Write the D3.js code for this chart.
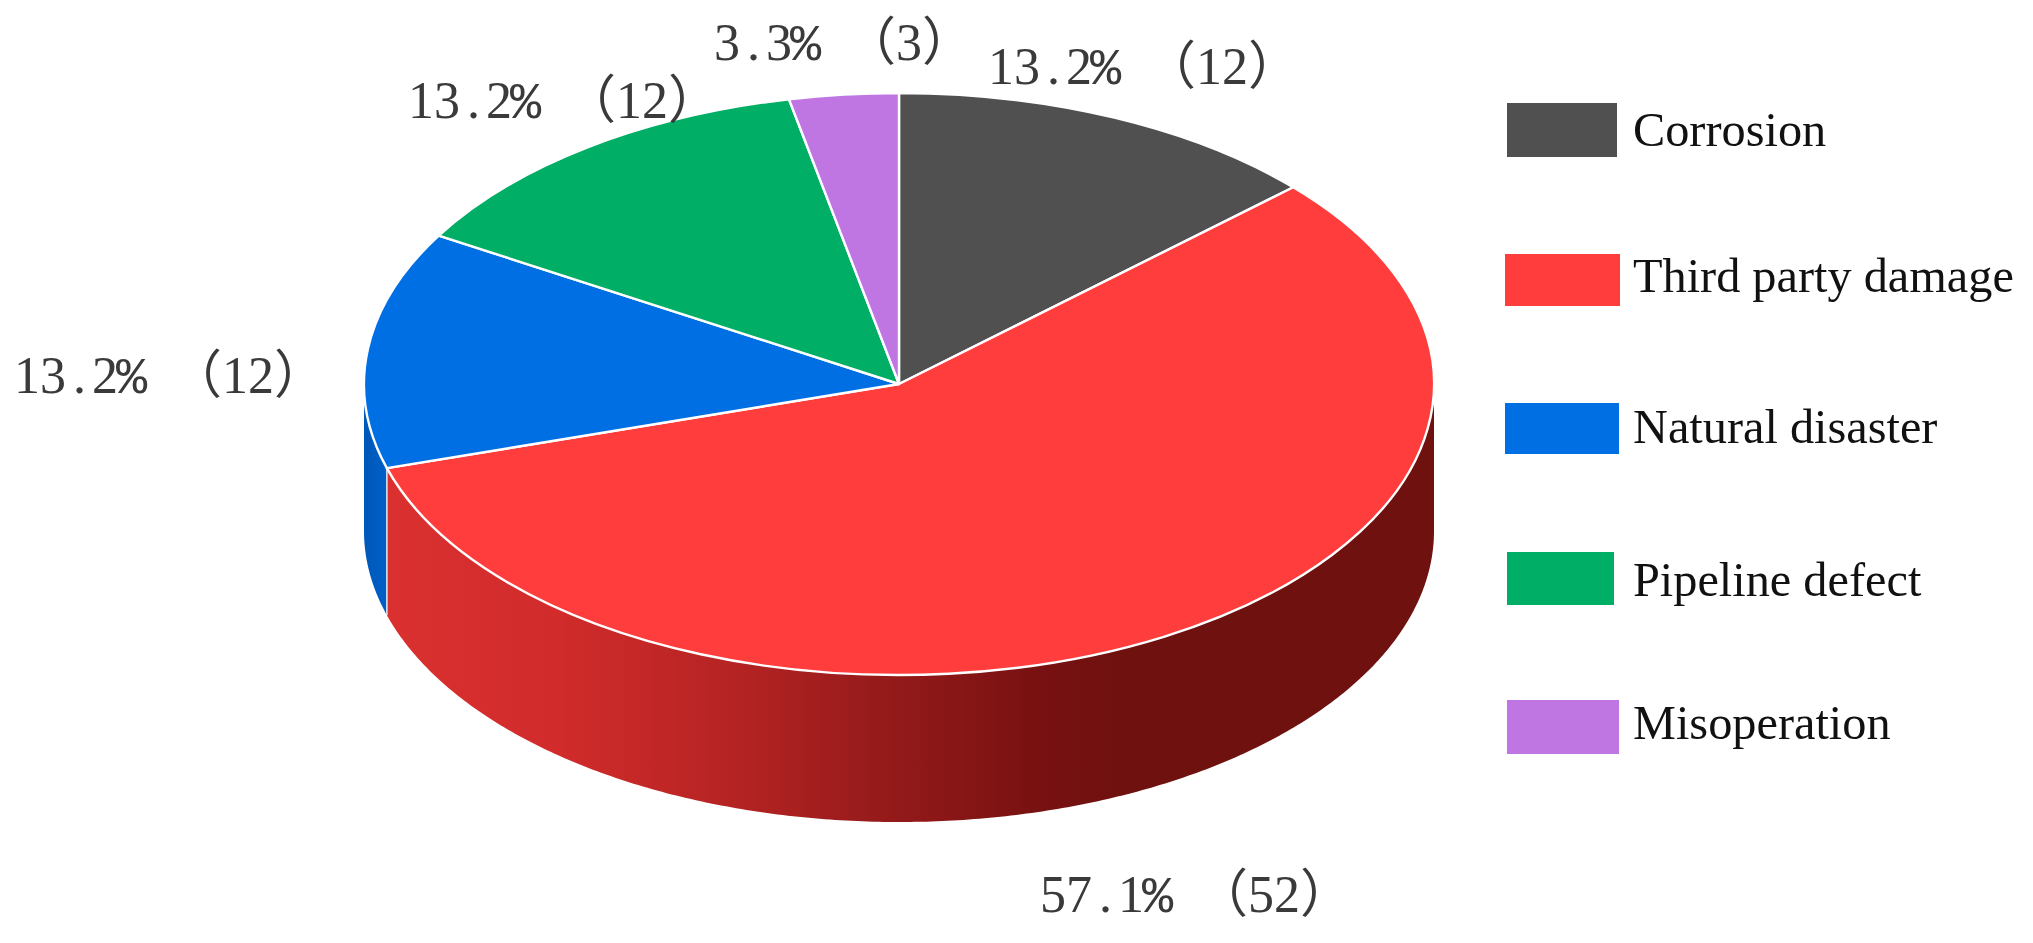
<!DOCTYPE html>
<html><head><meta charset="utf-8">
<script src="https://cdn.jsdelivr.net/npm/d3@7/dist/d3.min.js"></script>
<style>html,body{margin:0;padding:0;background:#fff}svg{display:block}</style>
</head><body><svg id="c" width="2033" height="943"></svg>
<script>
const categories = ["Corrosion","Third party damage","Natural disaster","Pipeline defect","Misoperation"];
const counts = [12,52,12,12,3];
const percents = ["13.2%","57.1%","13.2%","13.2%","3.3%"];
const colors = ["#505050","#ff3d3d","#006fe3","#00ae65","#c076e2"];
const wallStops = {
  "Third party damage":[[387,"#da3030"],[560,"#d12b2b"],[740,"#b42323"],[870,"#981b1b"],[1040,"#781111"],[1130,"#6e110f"],[1434,"#6e110f"]],
  "Natural disaster":[[364,"#0058b8"],[387,"#0060c8"]]
};
const labelAnchors = [[988,84],[1040,912],[14,393],[408,118],[714,60]];
const legendBoxes = [[1507,103,110,54],[1505,254,115,52],[1505,403,114,51],[1507,552,107,53],[1507,700,112,54]];
const legendBaselines = [146,292,443,596,739];

const svg = d3.select("#c");
const cx=899, cy=384, rx=535, ry=291, depth=147;
const defs = svg.append("defs");
const pieGen = d3.pie().sort(null).value(d=>d);
const arcs = pieGen(counts);
const px = a => cx+rx*Math.sin(a), py = a => cy-ry*Math.cos(a);

// side walls: only the front half (angles 90deg..270deg) is visible
const wall = d3.area().x(a=>px(a)).y0(a=>py(a)).y1(a=>py(a)+depth);
arcs.forEach((d,i)=>{
  const stops = wallStops[categories[i]];
  const a0=Math.max(d.startAngle,Math.PI/2), a1=Math.min(d.endAngle,1.5*Math.PI);
  if(!stops||a1<=a0) return;
  const id="w"+i;
  const g=defs.append("linearGradient").attr("id",id).attr("gradientUnits","userSpaceOnUse")
    .attr("x1",stops[0][0]).attr("x2",stops[stops.length-1][0]).attr("y1",0).attr("y2",0);
  const sx=d3.scaleLinear().domain([stops[0][0],stops[stops.length-1][0]]).range([0,1]);
  stops.forEach(s=>g.append("stop").attr("offset",sx(s[0])).attr("stop-color",s[1]));
  svg.append("path").attr("d",wall(d3.range(a0,a1,0.01).concat([a1]))).attr("fill",`url(#${id})`);
});
// seam between blue and red walls
const seam=arcs[1].endAngle;
svg.append("line").attr("x1",px(seam)).attr("x2",px(seam)).attr("y1",py(seam)).attr("y2",py(seam)+depth)
  .attr("stroke","#fff").attr("stroke-opacity",0.85).attr("stroke-width",1.5);

// top face
const arcGen=d3.arc().innerRadius(0).outerRadius(rx);
svg.append("g").attr("transform",`translate(${cx},${cy}) scale(1,${ry/rx})`)
  .selectAll("path").data(arcs).join("path")
  .attr("d",arcGen).attr("fill",(d,i)=>colors[i])
  .attr("stroke","#fff").attr("stroke-width",2.4).attr("vector-effect","non-scaling-stroke")
  .attr("stroke-linejoin","round");

// value labels: monospaced half-width cells like the original
const cell=26;
function positions(s,x0){
  let x=x0; const out=[];
  for(const ch of s){
    const full=ch==="（"||ch==="）";
    out.push((ch==="."?x+7:ch==="%"?x-2:x).toFixed(1));
    x+=full?cell*2:cell;
  }
  return out.join(" ");
}
const labels=svg.append("g").selectAll("text").data(categories).join("text")
  .attr("font-family","'Liberation Serif','Noto Sans CJK SC',serif")
  .attr("font-size",52).attr("fill","#3a3a3a")
  .each(function(d,i){
    const num=percents[i].replace("%","");
    const rest=` （${counts[i]}）`;
    const t=d3.select(this)
      .attr("x",positions(num+"%"+rest,labelAnchors[i][0])).attr("y",labelAnchors[i][1]);
    t.append("tspan").text(num);
    t.append("tspan").attr("font-family","'Liberation Mono',monospace").text("%");
    t.append("tspan").text(rest);
  });

// legend
const lg=svg.append("g");
lg.selectAll("rect").data(categories).join("rect")
  .attr("x",(d,i)=>legendBoxes[i][0]).attr("y",(d,i)=>legendBoxes[i][1])
  .attr("width",(d,i)=>legendBoxes[i][2]).attr("height",(d,i)=>legendBoxes[i][3])
  .attr("fill",(d,i)=>colors[i]);
lg.selectAll("text").data(categories).join("text")
  .attr("x",1633).attr("y",(d,i)=>legendBaselines[i]).text(d=>d)
  .attr("font-family","'Liberation Serif',serif").attr("font-size",48.3).attr("fill","#111");
</script></body></html>
